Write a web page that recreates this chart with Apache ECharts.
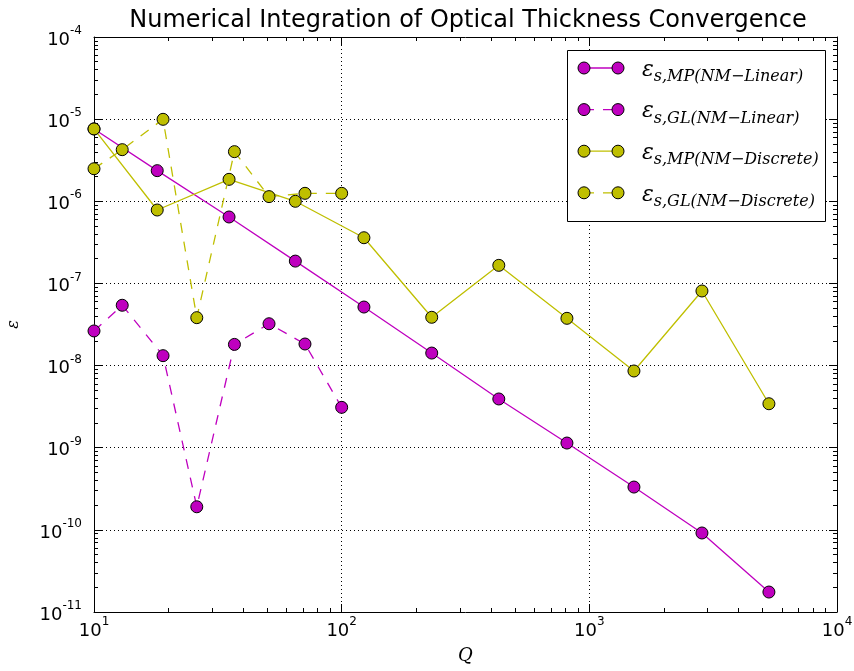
<!DOCTYPE html>
<html>
<head>
<meta charset="utf-8">
<script src="https://cdn.jsdelivr.net/npm/echarts@6/dist/echarts.min.js"></script>
<style>
  html, body { margin: 0; padding: 0; background: #fff; }
  #chart { width: 854px; height: 671px; }
</style>
</head>
<body>
<div id="chart"></div>
<script>
// Number of quadrature points Q for each scheme
const qMP = [10, 18, 35.1, 65, 123, 231, 431, 812, 1514, 2849, 5310];
const qGL = [10, 13, 19, 26, 36.9, 50.9, 71.1, 100];

// Relative errors of the optical thickness integral
const epsMPLinear   = [7.6e-6, 2.36e-6, 6.44e-7, 1.87e-7, 5.16e-8, 1.42e-8, 3.92e-9, 1.14e-9, 3.32e-10, 9.16e-11, 1.75e-11];
const epsGLLinear   = [2.64e-8, 5.42e-8, 1.32e-8, 1.91e-10, 1.81e-8, 3.23e-8, 1.83e-8, 3.10e-9];
const epsMPDiscrete = [7.6e-6, 7.83e-7, 1.85e-6, 1.0e-6, 3.6e-7, 3.87e-8, 1.66e-7, 3.76e-8, 8.59e-9, 8.09e-8, 3.43e-9];
const epsGLDiscrete = [2.49e-6, 4.25e-6, 9.95e-6, 3.83e-8, 4.02e-6, 1.14e-6, 1.25e-6, 1.25e-6];

// Major tick positions (decades)
const xTicks = [1e1, 1e2, 1e3, 1e4];
const yTicks = [1e-11, 1e-10, 1e-9, 1e-8, 1e-7, 1e-6, 1e-5, 1e-4];

// Legend subscripts
const legendSubs = ['s,MP(NM\u2212Linear)', 's,GL(NM\u2212Linear)', 's,MP(NM\u2212Discrete)', 's,GL(NM\u2212Discrete)'];

const MAGENTA = '#bf00bf';
const OLIVE = '#bfbf00';
const DASH = [10, 9];
const SANS = 'DejaVu Sans';
const SERIF = 'DejaVu Serif';

// minor ticks at 2..9 times each decade
function minorTicks(majors) {
  const out = [];
  for (let i = 0; i < majors.length - 1; i++) {
    for (let k = 2; k <= 9; k++) out.push(majors[i] * k);
  }
  return out;
}
const xMinor = minorTicks(xTicks);
const yMinor = minorTicks(yTicks);

function powLabel(v) {
  const e = Math.round(Math.log10(v));
  return '{b|10}{s|' + e + '}';
}
const labelRich = {
  b: { fontSize: 18, fontFamily: SANS, color: '#000', lineHeight: 24, verticalAlign: 'bottom' },
  s: { fontSize: 12, fontFamily: SANS, color: '#000', lineHeight: 10, verticalAlign: 'top' }
};

function majorAxis(pos, ticks, showLabels, extra) {
  return Object.assign({
    type: 'log', logBase: 10, position: pos,
    min: ticks[0], max: ticks[ticks.length - 1], interval: 1,
    axisLine: { show: true, onZero: false, lineStyle: { color: '#000', width: 1 } },
    axisTick: { show: true, inside: true, length: 8, customValues: ticks, lineStyle: { color: '#000', width: 1 } },
    axisLabel: showLabels ? { show: true, customValues: ticks, formatter: powLabel, rich: labelRich } : { show: false },
    splitLine: { show: false },
    minorTick: { show: false },
    axisPointer: { show: false }
  }, extra || {});
}
function minorAxis(pos, ticks, minors) {
  return {
    type: 'log', logBase: 10, position: pos,
    min: ticks[0], max: ticks[ticks.length - 1], interval: 1,
    axisLine: { show: false },
    axisTick: { show: true, inside: true, length: 4, customValues: minors, lineStyle: { color: '#000', width: 1 } },
    axisLabel: { show: false },
    splitLine: { show: false },
    axisPointer: { show: false }
  };
}

const gridLine = { show: true, lineStyle: { color: '#000', width: 1, type: [1, 3] } };

function pairs(xs, ys) { return xs.map((x, i) => [x, ys[i]]); }
function makeSeries(name, xs, ys, color, dashed, z) {
  return {
    name: name, type: 'line', data: pairs(xs, ys),
    xAxisIndex: 0, yAxisIndex: 0, z: z,
    symbol: 'circle', symbolSize: 12, showSymbol: true,
    lineStyle: { color: color, width: 1.3, type: dashed ? DASH : 'solid' },
    itemStyle: { color: color, borderColor: '#000', borderWidth: 1 },
    emphasis: { disabled: true },
    silent: true
  };
}

// hand-built legend box: line sample with a marker at each end plus math-style label
const legendColors = [MAGENTA, MAGENTA, OLIVE, OLIVE];
const legendDashed = [false, true, false, true];
const legendEls = [{
  type: 'rect', z: 100,
  shape: { x: 567.5, y: 50.5, width: 258, height: 171 },
  style: { fill: '#fff', stroke: '#000', lineWidth: 1 }
}];
legendSubs.forEach((sub, i) => {
  const ry = 68 + i * 41.6;
  legendEls.push({
    type: 'line', z: 101,
    shape: { x1: 584, y1: ry, x2: 618, y2: ry },
    style: { stroke: legendColors[i], lineWidth: 1.3, lineDash: legendDashed[i] ? DASH : null }
  });
  [584, 618].forEach(cx => legendEls.push({
    type: 'circle', z: 102,
    shape: { cx: cx, cy: ry, r: 6 },
    style: { fill: legendColors[i], stroke: '#000', lineWidth: 1 }
  }));
  legendEls.push({
    type: 'text', z: 102, x: 642, y: ry + 4,
    style: {
      text: '{e|\u03b5}{s|' + sub + '}',
      verticalAlign: 'middle', align: 'left',
      rich: {
        e: { fontSize: 22, fontFamily: SERIF, fontStyle: 'italic', fill: '#000', lineHeight: 26, verticalAlign: 'top' },
        s: { fontSize: 16, fontFamily: SERIF, fontStyle: 'italic', fill: '#000', lineHeight: 12, verticalAlign: 'bottom' }
      }
    }
  });
});

const option = {
  animation: false,
  backgroundColor: '#fff',
  title: {
    text: 'Numerical Integration of Optical Thickness Convergence',
    left: 463, top: 4, textAlign: 'center',
    textStyle: { fontFamily: SANS, fontSize: 24, fontWeight: 'normal', color: '#000' }
  },
  grid: { left: 94, right: 17, top: 37, bottom: 59, containLabel: false, outerBoundsMode: 'none' },
  xAxis: [
    majorAxis('bottom', xTicks, true, {
      splitLine: gridLine,
      name: 'Q', nameLocation: 'middle', nameGap: 35,
      nameTextStyle: { fontFamily: SERIF, fontStyle: 'italic', fontSize: 18, color: '#000' },
      axisLabel: { show: true, customValues: xTicks, formatter: powLabel, rich: labelRich, margin: 4 }
    }),
    minorAxis('bottom', xTicks, xMinor),
    majorAxis('top', xTicks, false),
    minorAxis('top', xTicks, xMinor)
  ],
  yAxis: [
    majorAxis('left', yTicks, true, {
      splitLine: gridLine,
      name: '\u03b5', nameLocation: 'middle', nameGap: 72, nameRotate: 90,
      nameTextStyle: { fontFamily: SERIF, fontStyle: 'italic', fontSize: 16, color: '#000' },
      axisLabel: { show: true, customValues: yTicks, formatter: powLabel, rich: labelRich, margin: 12 }
    }),
    minorAxis('left', yTicks, yMinor),
    majorAxis('right', yTicks, false),
    minorAxis('right', yTicks, yMinor)
  ],
  graphic: { elements: legendEls },
  series: [
    makeSeries('MP Linear', qMP, epsMPLinear, MAGENTA, false, 3),
    makeSeries('GL Linear', qGL, epsGLLinear, MAGENTA, true, 4),
    makeSeries('MP Discrete', qMP, epsMPDiscrete, OLIVE, false, 5),
    makeSeries('GL Discrete', qGL, epsGLDiscrete, OLIVE, true, 6)
  ]
};

const chart = echarts.init(document.getElementById('chart'), null, { renderer: 'canvas' });
chart.setOption(option);
</script>
</body>
</html>
